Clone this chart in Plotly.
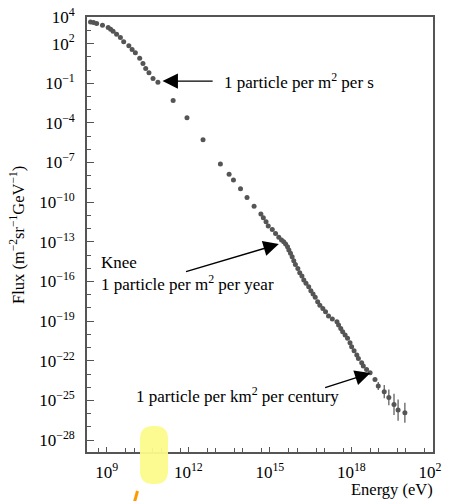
import plotly.graph_objects as go

# ---- data (log10 values) ----
log_energy = [8.40, 8.51, 8.625, 8.84, 9.05, 9.14, 9.23, 9.36, 9.50, 9.62, 9.81, 9.93,
              10.05, 10.21, 10.33, 10.43, 10.55, 10.70, 10.88,
              11.44, 11.95, 12.54, 13.18, 13.50, 13.66, 13.92, 14.16, 14.42, 14.67,
              14.76, 14.86, 14.94, 15.09, 15.21, 15.33,
              15.43, 15.51, 15.58, 15.65, 15.70, 15.76, 15.82, 15.88, 15.94, 16.03,
              16.10, 16.18, 16.25, 16.33, 16.43, 16.51, 16.59, 16.67, 16.76, 16.84,
              16.95, 17.05, 17.16, 17.30,
              17.47, 17.53, 17.61, 17.68, 17.77, 17.86, 17.95, 18.01, 18.10,
              18.20, 18.26, 18.38, 18.44, 18.56, 18.69, 18.87]
log_flux = [3.64, 3.60, 3.52, 3.39, 3.22, 3.09, 2.94, 2.71, 2.46, 2.13, 1.83, 1.56,
            1.30, 0.88, 0.50, 0.12, -0.21, -0.64, -0.92,
            -2.30, -3.62, -5.27, -7.12, -7.88, -8.33, -8.99, -9.64, -10.30, -10.90,
            -11.18, -11.48, -11.81, -12.06, -12.36, -12.66,
            -12.87, -13.00, -13.17, -13.37, -13.62, -13.87, -14.13, -14.43, -14.71, -15.01,
            -15.34, -15.59, -15.89, -16.14, -16.40, -16.70, -16.95, -17.20, -17.54, -17.79,
            -18.04, -18.29, -18.62, -18.84,
            -19.05, -19.30, -19.55, -19.80, -20.05, -20.30, -20.64, -20.94, -21.24,
            -21.57, -21.82, -22.15, -22.40, -22.65, -22.91, -23.41]

log_energy_err = [18.99, 19.21, 19.38, 19.57, 19.72, 19.97]
log_flux_err = [-23.91, -24.34, -24.77, -25.30, -25.73, -25.93]
err_decades = [0.3, 0.5, 0.6, 0.8, 0.8, 0.75]

x_ticks_labeled = [9, 12, 15, 18, 21]
y_ticks_labeled = [4, 2, -1, -4, -7, -10, -13, -16, -19, -22, -25, -28]

# ---- geometry (page has an 8px body margin) ----
OFF = 8
W, H = 450 - OFF, 501 - OFF
PL, PR, PT, PB = 87, 433, 17, 452          # plot area in window pixels
L, T = PL - OFF, PT - OFF
R, B = W - (PR - OFF), H - (PB - OFF)
pw, ph = PR - PL, PB - PT


def px(xp):
    return (xp - PL) / pw


def py(yp):
    return (PB - yp) / ph


def sup(n):
    s = str(n).replace('-', '\u2212')
    return f"10<sup>{s}</sup>"


GREY = '#555555'
FONT = 'Liberation Serif, Times New Roman, DejaVu Serif, serif'
TXT = 17

fig = go.Figure()

energy = [10.0 ** v for v in log_energy]
flux = [10.0 ** v for v in log_flux]
fig.add_trace(go.Scatter(x=energy, y=flux, mode='markers',
                         marker=dict(color=GREY, size=5), hoverinfo='skip'))

e2 = [10.0 ** v for v in log_energy_err]
f2 = [10.0 ** v for v in log_flux_err]
up = [10.0 ** (f + d) - 10.0 ** f for f, d in zip(log_flux_err, err_decades)]
dn = [10.0 ** f - 10.0 ** (f - d) for f, d in zip(log_flux_err, err_decades)]
fig.add_trace(go.Scatter(x=e2, y=f2, mode='markers',
                         marker=dict(color=GREY, size=5),
                         error_y=dict(type='data', array=up, arrayminus=dn,
                                      color=GREY, thickness=1.2, width=0),
                         hoverinfo='skip'))

x_minor = [10.0 ** v for v in range(8, 22)] + [5 * 10.0 ** v for v in range(8, 21)]
y_minor = [10.0 ** v for v in range(-29, 5)]

fig.update_xaxes(type='log', range=[8.27, 21.005], automargin=False,
                 showline=True, linecolor=GREY, linewidth=1.6, mirror=True,
                 ticks='inside', ticklen=5, tickcolor=GREY, tickwidth=1.2,
                 tickvals=[10.0 ** v for v in x_ticks_labeled],
                 ticktext=[sup(v) for v in x_ticks_labeled],
                 ticklabelstandoff=4, ticklabeloverflow='allow',
                 minor=dict(tickvals=x_minor, ticks='inside',
                            ticklen=4, tickcolor=GREY, tickwidth=1.2),
                 showgrid=False, zeroline=False,
                 tickfont=dict(family=FONT, size=TXT, color='black'))
fig.update_yaxes(type='log', range=[-28.9, 4.01], automargin=False,
                 showline=True, linecolor=GREY, linewidth=1.6, mirror=True,
                 ticks='inside', ticklen=7, tickcolor=GREY, tickwidth=1.2,
                 tickvals=[10.0 ** v for v in y_ticks_labeled],
                 ticktext=[sup(v) for v in y_ticks_labeled],
                 ticklabelstandoff=7, ticklabeloverflow='allow',
                 minor=dict(tickvals=y_minor, ticks='inside',
                            ticklen=4, tickcolor=GREY, tickwidth=1.2),
                 showgrid=False, zeroline=False,
                 tickfont=dict(family=FONT, size=TXT, color='black'))

ann = []
# arrows (tail -> tip), in log data units
arrows = [((12.95, -0.84), (11.05, -0.84)),
          ((11.86, -15.29), (15.33, -13.17)),
          ((16.98, -24.06), (18.70, -22.93))]
for (tx, ty), (hx, hy) in arrows:
    ann.append(dict(x=hx, y=hy, ax=tx, ay=ty, xref='x', yref='y', axref='x', ayref='y',
                    text='', showarrow=True, arrowhead=2, arrowsize=2.2,
                    arrowwidth=1.4, arrowcolor='black'))

texts = [("1 particle per m<sup>2</sup> per s", 222, 81),
         ("Knee", 99, 262),
         ("1 particle per m<sup>2</sup> per year", 99, 283),
         ("1 particle per km<sup>2</sup> per century", 134, 395)]
for t, xp, yp in texts:
    ann.append(dict(x=px(xp), y=py(yp), xref='paper', yref='paper', text=t,
                    showarrow=False, xanchor='left', yanchor='middle',
                    font=dict(family=FONT, size=TXT, color='black')))

ann.append(dict(x=px(435), y=py(489), xref='paper', yref='paper', text='Energy (eV)',
                showarrow=False, xanchor='right', yanchor='middle',
                font=dict(family=FONT, size=16.5, color='black')))
ann.append(dict(x=px(18), y=py(235), xref='paper', yref='paper',
                text='Flux (m<sup>\u22122</sup>sr<sup>\u22121</sup>GeV<sup>\u22121</sup>)',
                textangle=-90, showarrow=False, xanchor='center', yanchor='middle',
                font=dict(family=FONT, size=16.5, color='black')))

# highlighter blob and orange stroke
x0, x1, y0, y1 = px(140), px(168), py(426), py(484)
rx, ry = 13 / pw, 13 / ph
path = (f"M {x0+rx},{y0} L {x1-rx},{y0} Q {x1},{y0} {x1},{y0-ry} "
        f"L {x1},{y1+ry} Q {x1},{y1} {x1-rx},{y1} L {x0+rx},{y1} "
        f"Q {x0},{y1} {x0},{y1+ry} L {x0},{y0-ry} Q {x0},{y0} {x0+rx},{y0} Z")
shapes = [dict(type='path', path=path, xref='paper', yref='paper',
               fillcolor='#fbfb8c', line=dict(width=0), layer='above', opacity=0.95),
          dict(type='line', x0=px(137.5), y0=py(491), x1=px(134.5), y1=py(502),
               xref='paper', yref='paper', line=dict(color='#ff9a00', width=3))]

fig.update_layout(width=W, height=H, margin=dict(l=L, r=R, t=T, b=B, autoexpand=False),
                  paper_bgcolor='white', plot_bgcolor='white', showlegend=False,
                  annotations=ann, shapes=shapes,
                  font=dict(family=FONT, size=TXT, color='black'))

fig.write_html("out.html")
